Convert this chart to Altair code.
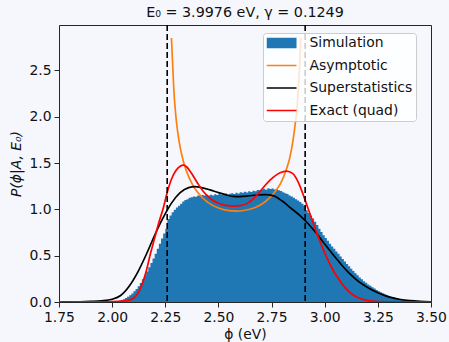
import altair as alt
import pandas as pd

# ---------------- data ----------------
series_names = ["Simulation", "Asymptotic", "Superstatistics", "Exact (quad)"]
series_colors = ["#1f77b4", "#ff7f0e", "#000000", "#ff0000"]

# histogram: bins of width 0.01 starting at 1.99
hist_start = 1.99
hist_width = 0.01
hist_vals = [
    0.002, 0.004, 0.006, 0.010, 0.014, 0.022, 0.030, 0.042, 0.056, 0.074,
    0.092, 0.115, 0.140, 0.170, 0.205, 0.245, 0.285, 0.330, 0.375, 0.420,
    0.470, 0.520, 0.575, 0.630, 0.685, 0.740, 0.790, 0.895, 0.935, 0.970,
    0.995, 1.020, 1.040, 1.060, 1.085, 1.100, 1.110, 1.125, 1.130, 1.140,
    1.135, 1.150, 1.145, 1.155, 1.150, 1.160, 1.150, 1.158, 1.150, 1.162,
    1.155, 1.165, 1.158, 1.160, 1.170, 1.158, 1.168, 1.175, 1.165, 1.180,
    1.172, 1.185, 1.178, 1.190, 1.182, 1.195, 1.188, 1.200, 1.195, 1.210,
    1.205, 1.215, 1.222, 1.212, 1.228, 1.220, 1.225, 1.215, 1.218, 1.205,
    1.198, 1.185, 1.175, 1.165, 1.150, 1.140, 1.125, 1.110, 1.095, 1.080,
    1.060, 1.040, 0.990, 0.960, 0.930, 0.900, 0.865, 0.830, 0.790, 0.755,
    0.720, 0.690, 0.660, 0.630, 0.600, 0.575, 0.545, 0.520, 0.490, 0.465,
    0.438, 0.410, 0.385, 0.360, 0.335, 0.310, 0.288, 0.265, 0.245, 0.225,
    0.207, 0.190, 0.175, 0.160, 0.145, 0.130, 0.117, 0.105, 0.095, 0.085,
    0.075, 0.065, 0.057, 0.050, 0.044, 0.038, 0.033, 0.028, 0.024, 0.020,
    0.017, 0.014, 0.012, 0.010, 0.008, 0.007, 0.005, 0.004, 0.003, 0.002,
]

asym_phi = [2.279, 2.285, 2.29, 2.30, 2.31, 2.32, 2.335, 2.35, 2.375, 2.40,
            2.45, 2.50, 2.55, 2.583, 2.62, 2.67, 2.72, 2.77, 2.795, 2.82,
            2.835, 2.85, 2.86, 2.87, 2.876, 2.882, 2.887]
asym_p = [2.85, 2.55, 2.30, 2.00, 1.81, 1.67, 1.52, 1.41, 1.28, 1.19,
          1.076, 1.015, 0.986, 0.981, 0.988, 1.018, 1.082, 1.20, 1.29, 1.435,
          1.55, 1.73, 1.90, 2.10, 2.30, 2.55, 2.85]

super_phi = [1.75, 1.85, 1.90, 1.95, 2.00, 2.04, 2.08, 2.12, 2.16, 2.20,
             2.24, 2.28, 2.32, 2.36, 2.39, 2.42, 2.46, 2.50, 2.54, 2.57,
             2.60, 2.64, 2.68, 2.72, 2.76, 2.80, 2.84, 2.88, 2.92, 2.96,
             3.00, 3.04, 3.08, 3.12, 3.16, 3.20, 3.25, 3.30, 3.35, 3.40,
             3.45, 3.50]
super_p = [0.0, 0.002, 0.006, 0.013, 0.03, 0.07, 0.17, 0.32, 0.51, 0.72,
           0.91, 1.07, 1.18, 1.235, 1.245, 1.235, 1.21, 1.18, 1.155, 1.14,
           1.138, 1.145, 1.155, 1.16, 1.145, 1.09, 1.015, 0.94, 0.85, 0.745,
           0.625, 0.51, 0.40, 0.30, 0.22, 0.16, 0.10, 0.055, 0.03, 0.014,
           0.006, 0.002]

exact_phi = [1.75, 1.95, 2.00, 2.05, 2.08, 2.10, 2.12, 2.145, 2.16, 2.18,
             2.20, 2.22, 2.24, 2.26, 2.28, 2.30, 2.32, 2.335, 2.35, 2.37,
             2.40, 2.43, 2.46, 2.50, 2.54, 2.57, 2.60, 2.64, 2.68, 2.72,
             2.76, 2.79, 2.82, 2.85, 2.88, 2.90, 2.92, 2.94, 2.96, 2.98,
             3.00, 3.02, 3.04, 3.06, 3.08, 3.10, 3.12, 3.15, 3.18, 3.22,
             3.30, 3.50]
exact_p = [0.0, 0.001, 0.003, 0.01, 0.02, 0.04, 0.09, 0.22, 0.33, 0.52,
           0.69, 0.86, 1.01, 1.19, 1.33, 1.42, 1.465, 1.478, 1.46, 1.40,
           1.29, 1.19, 1.12, 1.065, 1.04, 1.035, 1.04, 1.07, 1.15, 1.26,
           1.35, 1.395, 1.413, 1.385, 1.27, 1.15, 1.02, 0.89, 0.76, 0.64,
           0.53, 0.43, 0.34, 0.27, 0.20, 0.145, 0.10, 0.055, 0.028, 0.01,
           0.002, 0.0]

vlines = [2.259, 2.908]

x_ticks = [1.75, 2.00, 2.25, 2.50, 2.75, 3.00, 3.25, 3.50]
y_ticks = [0.0, 0.5, 1.0, 1.5, 2.0, 2.5]
x_domain = [1.75, 3.5]
y_domain = [0.0, 2.99]

# ---------------- tables ----------------
n_bins = len(hist_vals)
df_hist = pd.DataFrame({
    # bin left edges plus the closing right edge of the last bin
    "edge": [round(hist_start + i * hist_width, 4) for i in range(n_bins + 1)],
    "p": hist_vals + [0.0],
})
df_asym = pd.DataFrame({"phi": asym_phi, "p": asym_p})
df_super = pd.DataFrame({"phi": super_phi, "p": super_p})
df_exact = pd.DataFrame({"phi": exact_phi, "p": exact_p})
df_v = pd.DataFrame({"phi": vlines})
df_leg = pd.DataFrame({"series": series_names})

FONT = "DejaVu Sans"
FS = 13.9
BG = "#f6f7fd"

xscale = alt.Scale(domain=x_domain, nice=False, zero=False)
yscale = alt.Scale(domain=y_domain, nice=False)

xaxis = alt.Axis(values=x_ticks, format=".2f", title="ϕ (eV)",
                 labelFlush=False, labelOverlap=False)
yaxis = alt.Axis(values=y_ticks, format=".1f", title="P(ϕ|A, E₀)",
                 titleFontStyle="italic", labelFlush=False, labelOverlap=False)

hist = alt.Chart(df_hist).mark_area(
    color=series_colors[0], interpolate="step-after"
).encode(
    x=alt.X("edge:Q", scale=xscale, axis=xaxis),
    y=alt.Y("p:Q", scale=yscale, axis=yaxis, stack=None),
)


def curve(df, color):
    return alt.Chart(df).mark_line(
        color=color, strokeWidth=1.7, interpolate="monotone", clip=True
    ).encode(
        x=alt.X("phi:Q", scale=xscale),
        y=alt.Y("p:Q", scale=yscale),
    )


asym = curve(df_asym, series_colors[1])
sup = curve(df_super, series_colors[2])
exact = curve(df_exact, series_colors[3])

rules = alt.Chart(df_v).mark_rule(
    color="black", strokeDash=[6, 3], strokeWidth=1.6
).encode(x=alt.X("phi:Q", scale=xscale))

rect_path = "M-1,-0.35H1V0.35H-1Z"
line_path = "M-1,-0.055H1V0.055H-1Z"

leg = alt.Legend(
    title=None, orient="none", legendX=204, legendY=8,
    fillColor="rgba(255,255,255,0.8)", strokeColor="#cccccc",
    cornerRadius=3, padding=3.5, symbolSize=900, clipHeight=13,
    rowPadding=7.5, labelOffset=13, labelFont=FONT, labelFontSize=FS,
    labelColor="#111111", symbolStrokeWidth=0, symbolOpacity=1,
)

legend_layer = alt.Chart(df_leg).mark_point(
    filled=True, clip=True, size=10
).encode(
    x=alt.value(-200),
    y=alt.value(-200),
    color=alt.Color("series:N", sort=series_names,
                    scale=alt.Scale(domain=series_names, range=series_colors),
                    legend=leg),
    shape=alt.Shape("series:N", sort=series_names,
                    scale=alt.Scale(domain=series_names,
                                    range=[rect_path, line_path, line_path, line_path]),
                    legend=leg),
)

chart = alt.layer(hist, asym, sup, exact, rules, legend_layer).properties(
    width=372,
    height=277,
    title=alt.TitleParams("E₀ = 3.9976 eV, γ = 0.1249", font=FONT, fontSize=14.3,
                          fontWeight="normal", color="#111111", offset=4),
    autosize=alt.AutoSizeParams(type="none"),
    padding={"left": 59, "right": 18, "top": 25, "bottom": 40},
    background=BG,
).configure_view(
    stroke="#262626", strokeWidth=1, fill=BG
).configure_axis(
    labelFont=FONT, labelFontSize=FS, labelColor="#111111",
    titleFont=FONT, titleFontSize=FS, titleFontWeight="normal", titleColor="#111111",
    tickColor="#262626", tickSize=5, tickWidth=1, labelPadding=3,
    grid=False, domain=False, labelFlush=False,
).configure_axisY(titlePadding=5).configure_axisX(titlePadding=4).configure_legend(
    labelFont=FONT, labelFontSize=FS, labelColor="#111111",
    symbolSize=900, clipHeight=13, rowPadding=7.5, labelOffset=13,
    padding=3.5, cornerRadius=3, strokeColor="#cccccc",
    fillColor="rgba(255,255,255,0.8)", symbolStrokeWidth=0,
)

chart.save("out.html", embed_options={"renderer": "svg", "actions": False})
